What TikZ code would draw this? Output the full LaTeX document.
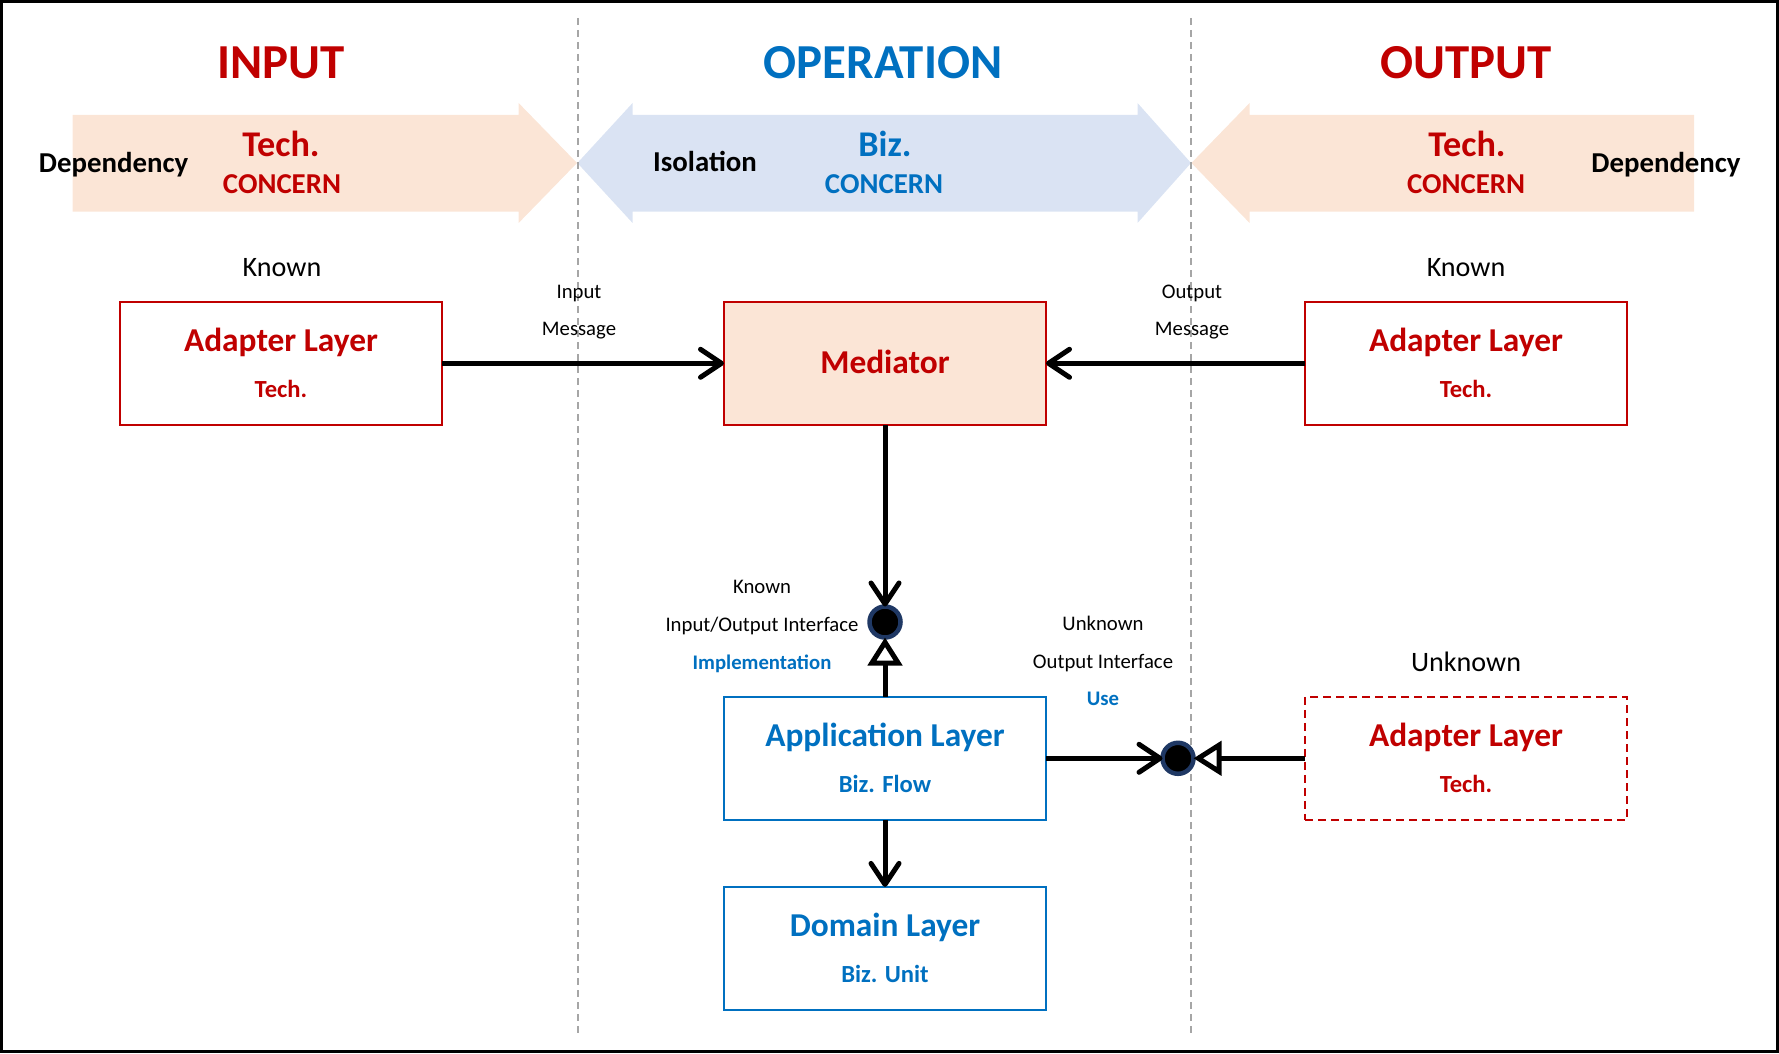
\documentclass[tikz,border=0pt]{standalone}
\usepackage{fontspec}
\setmainfont{Carlito}
\usetikzlibrary{arrows.meta,positioning,calc}

\definecolor{techred}{RGB}{192,0,0}
\definecolor{bizblue}{RGB}{0,112,192}
\definecolor{techfill}{RGB}{251,229,214}
\definecolor{bizfill}{RGB}{218,227,243}
\definecolor{ringblue}{RGB}{31,56,100}
\definecolor{sepgray}{RGB}{166,166,166}

\begin{document}
\begin{tikzpicture}[every node/.style={inner sep=0pt,outer sep=0pt}]
	
	\tikzstyle{head}=[anchor=base,font=\fontsize{13.9}{16}\selectfont\bfseries]
	\tikzstyle{bandbig}=[anchor=base,font=\fontsize{10.3}{12}\selectfont\bfseries]
	\tikzstyle{bandsmall}=[anchor=base,font=\fontsize{8.2}{10}\selectfont\bfseries]
	\tikzstyle{known}=[anchor=base,font=\fontsize{8}{10}\selectfont]
	\tikzstyle{note}=[anchor=base,font=\fontsize{5.9}{7}\selectfont]
	\tikzstyle{notebold}=[note,font=\fontsize{5.9}{7}\selectfont\bfseries,text=bizblue]
	\tikzstyle{layer}=[draw=techred,line width=0.02cm,minimum width=3.22cm,minimum height=1.23cm]
	\tikzstyle{biz}=[layer,draw=bizblue]
	\tikzstyle{title}=[anchor=base,font=\fontsize{9.5}{11}\selectfont\bfseries]
	\tikzstyle{subtitle}=[anchor=base,font=\fontsize{7}{9}\selectfont\bfseries]
	\tikzstyle{port}=[circle,draw=ringblue,fill=black,line width=0.045cm,minimum size=0.31cm]
	\tikzstyle{use}=[line width=0.05cm,-{Straight Barb[length=2.1mm,width=2.8mm,round]}]
	\tikzstyle{realize}=[line width=0.05cm,-{Triangle[open,length=2.8mm,width=3.4mm]}]
	\tikzstyle{sep}=[sepgray,line width=0.015cm,dash pattern=on 0.07cm off 0.05cm]
	
	\useasboundingbox (0,0) rectangle (17.79,10.53);
	\draw [line width=0.03cm] (0.015,0.015) rectangle (17.775,10.515);
	
	% concern bands
	\fill [techfill] (0.727,9.38) -- (5.186,9.38) -- (5.186,9.50) -- (5.77,8.90) -- (5.186,8.30) -- (5.186,8.413) -- (0.727,8.413) -- cycle;
	\fill [bizfill] (5.774,8.90) -- (6.326,9.50) -- (6.326,9.38) -- (11.375,9.38) -- (11.375,9.50) -- (11.91,8.90) -- (11.375,8.30) -- (11.375,8.413) -- (6.326,8.413) -- (6.326,8.30) -- cycle;
	\fill [techfill] (11.914,8.90) -- (12.496,9.50) -- (12.496,9.38) -- (16.94,9.38) -- (16.94,8.413) -- (12.496,8.413) -- (12.496,8.30) -- cycle;
	
	\draw [sep] (5.78cm,10.35cm) -- (5.78cm,0.17cm);
	\draw [sep] (11.91cm,10.35cm) -- (11.91cm,0.17cm);
	
	\node (h1) at (2.81,9.74) [head,text=techred] {INPUT};
	\node (h2) at (8.83,9.74) [head,text=bizblue] {OPERATION};
	\node (h3) at (14.66,9.74) [head,text=techred] {OUTPUT};
	
	\node (tech1) at (2.81,8.963) [bandbig,text=techred] {Tech.};
	\node (cc1) at (2.82,8.597) [bandsmall,text=techred] {CONCERN};
	\node (dep1) at (1.136,8.803) [bandsmall] {Dependency};
	\node (iso) at (7.05,8.813) [bandsmall] {Isolation};
	\node (biz1) at (8.85,8.963) [bandbig,text=bizblue] {Biz.};
	\node (cc2) at (8.84,8.597) [bandsmall,text=bizblue] {CONCERN};
	\node (tech2) at (14.67,8.963) [bandbig,text=techred] {Tech.};
	\node (cc3) at (14.66,8.597) [bandsmall,text=techred] {CONCERN};
	\node (dep2) at (16.66,8.803) [bandsmall] {Dependency};
	
	% layers
	\node (adapter1) at (2.81,6.897) [layer] {};
	\node (mediator) at (8.85,6.897) [layer,fill=techfill] {};
	\node (adapter2) at (14.66,6.897) [layer] {};
	\node (app) at (8.85,2.947) [biz] {};
	\node (domain) at (8.85,1.046) [biz] {};
	\node (adapter3) at (14.66,2.947) [layer,dash pattern=on 0.08cm off 0.05cm] {};
	
	\node (a1t) at ([yshift=0.115cm]adapter1.center) [title,text=techred] {Adapter Layer};
	\node (a1s) at ([yshift=-0.345cm]adapter1.center) [subtitle,text=techred] {Tech.};
	\node (medt) at ([yshift=-0.105cm]mediator.center) [title,text=techred] {Mediator};
	\node (a2t) at ([yshift=0.115cm]adapter2.center) [title,text=techred] {Adapter Layer};
	\node (a2s) at ([yshift=-0.345cm]adapter2.center) [subtitle,text=techred] {Tech.};
	\node (appt) at ([yshift=0.115cm]app.center) [title,text=bizblue] {Application Layer};
	\node (apps) at ([yshift=-0.345cm]app.center) [subtitle,text=bizblue] {Biz. Flow};
	\node (domt) at ([yshift=0.115cm]domain.center) [title,text=bizblue] {Domain Layer};
	\node (doms) at ([yshift=-0.345cm]domain.center) [subtitle,text=bizblue] {Biz. Unit};
	\node (a3t) at ([yshift=0.115cm]adapter3.center) [title,text=techred] {Adapter Layer};
	\node (a3s) at ([yshift=-0.345cm]adapter3.center) [subtitle,text=techred] {Tech.};
	
	\node (k1) at (2.82,7.76) [known] {Known};
	\node (k2) at (14.66,7.76) [known] {Known};
	\node (uk) at (14.66,3.813) [known] {Unknown};
	
	\node (in1) at (5.79,7.55) [note] {Input};
	\node (in2) at (5.79,7.17) [note] {Message};
	\node (out1) at (11.92,7.55) [note] {Output};
	\node (out2) at (11.92,7.17) [note] {Message};
	
	% ports
	\node (port1) at (8.85,4.31) [port] {};
	\node (port2) at (11.78,2.947) [port] {};
	
	\node (p1a) at (7.62,4.60) [note] {Known};
	\node (p1b) at (7.62,4.22) [note] {Input/Output Interface};
	\node (p1c) at (7.62,3.84) [notebold] {Implementation};
	\node (p2a) at (11.03,4.23) [note] {Unknown};
	\node (p2b) at (11.03,3.85) [note] {Output Interface};
	\node (p2c) at (11.03,3.48) [notebold] {Use};
	
	\draw [use] (adapter1) -- (mediator);
	\draw [use] (adapter2) -- (mediator);
	\draw [use] (mediator) -- (port1);
	\draw [realize] (app) -- (port1);
	\draw [use] (app) -- (domain);
	\draw [use] (app) -- (port2);
	\draw [realize] (adapter3) -- (port2);
	
\end{tikzpicture}
\end{document}
